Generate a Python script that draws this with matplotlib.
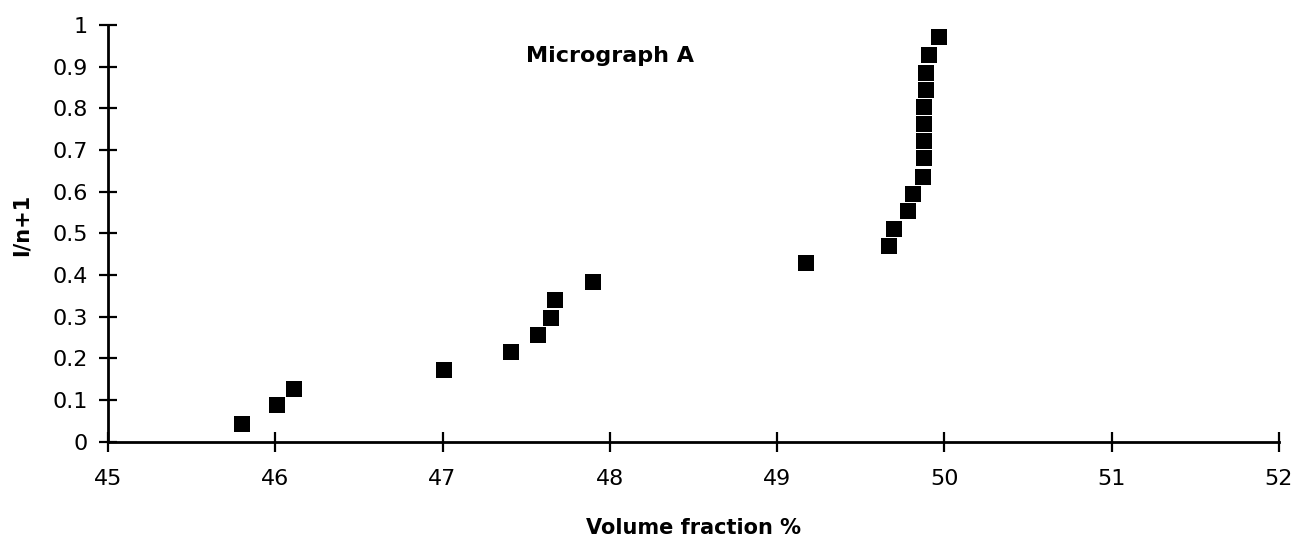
import matplotlib
matplotlib.use("Agg")
import matplotlib.pyplot as plt
import numpy as np

# volume fraction (%) and rank fraction for each measurement
vol_fraction = [45.80, 46.01, 46.11, 47.01, 47.41, 47.57, 47.65, 47.67, 47.90,
                49.17, 49.67, 49.70, 49.78, 49.81, 49.87, 49.88, 49.88, 49.88,
                49.88, 49.89, 49.89, 49.91, 49.97]
rank_frac = [0.043, 0.087, 0.127, 0.173, 0.215, 0.255, 0.298, 0.340, 0.383,
             0.429, 0.469, 0.511, 0.553, 0.595, 0.636, 0.680, 0.722, 0.762,
             0.802, 0.845, 0.885, 0.927, 0.970]

x_ticks = [45, 46, 47, 48, 49, 50, 51, 52]
y_ticks = [0, 0.1, 0.2, 0.3, 0.4, 0.5, 0.6, 0.7, 0.8, 0.9, 1]
y_ticklabels = ["0", "0.1", "0.2", "0.3", "0.4", "0.5", "0.6", "0.7", "0.8", "0.9", "1"]

fig = plt.figure(figsize=(12.96, 5.37), dpi=100)
ax = fig.add_axes([0.0833, 0.1775, 0.9035, 0.776])

ax.plot(vol_fraction, rank_frac, "s", color="black", markersize=12, markeredgewidth=0)

ax.set_xlim(45, 52)
ax.set_ylim(0, 1)
ax.set_xticks(x_ticks)
ax.set_xticklabels([str(t) for t in x_ticks])
ax.set_yticks(y_ticks)
ax.set_yticklabels(y_ticklabels)

for side in ["top", "right"]:
    ax.spines[side].set_visible(False)
for side in ["left", "bottom"]:
    ax.spines[side].set_linewidth(2)
    ax.spines[side].set_color("black")

ax.tick_params(axis="x", direction="inout", length=14, width=1.6, labelsize=16, pad=13)
ax.tick_params(axis="y", direction="inout", length=13, width=1.6, labelsize=16, pad=8)

ax.set_xlabel("Volume fraction %", fontsize=15, fontweight="bold")
ax.xaxis.set_label_coords(0.5, -0.183)
ax.set_ylabel("I/n+1", fontsize=15, fontweight="bold")
ax.yaxis.set_label_coords(-0.065, 0.52)

ax.text(48.0, 0.925, "Micrograph A", fontsize=16, fontweight="bold",
        ha="center", va="center")

fig.savefig("out.png", dpi=100, facecolor="white")
